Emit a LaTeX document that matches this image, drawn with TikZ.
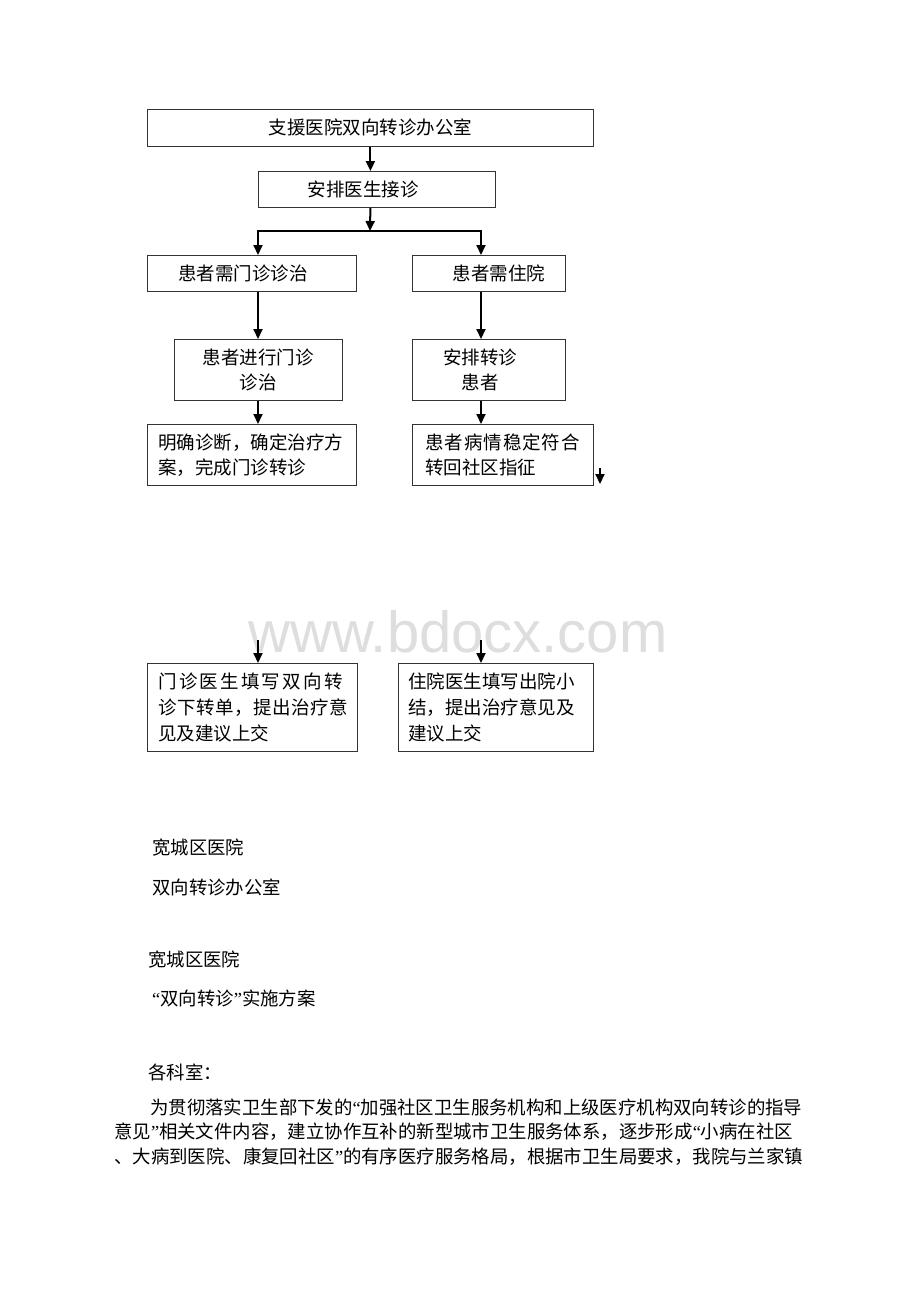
\documentclass[tikz,border=0pt]{standalone}
\usepackage{fontspec}
\setmainfont{Liberation Serif}
\newfontfamily\cjk{Noto Sans CJK SC}
\newfontfamily\markfont{Liberation Sans}
\usetikzlibrary{arrows.meta}
\newcommand{\lquo}{{\rmfamily “}}
\newcommand{\rquo}{{\rmfamily ”}}
\tikzstyle{rect} = [rectangle, draw=black!80, line width=0.8pt, inner sep=0pt, anchor=north west, align=center, font=\cjk\fontsize{18.5}{25}\selectfont]
\tikzstyle{note} = [rect, align=left, inner ysep=0pt]
\tikzstyle{arrow} = [line width=2pt, -{Triangle[length=10pt,width=9pt]}]
\tikzstyle{txt} = [anchor=west, inner sep=0pt, font=\cjk\fontsize{18.4}{24}\selectfont]

\begin{document}
\begin{tikzpicture}[x=1pt, y=-1pt]
        \fill[white] (0,0) rectangle (920,1302);
        \useasboundingbox (0,0) rectangle (920,1302);
        \node (mark) [anchor=base, text=black!13, font=\markfont\fontsize{58}{58}\selectfont] at (458,652) {www.bdocx.com};

        \node (office) [rect, minimum width=446pt, minimum height=37pt] at (147,109) {支援医院双向转诊办公室};
        \node (assign) [rect, minimum width=237pt, minimum height=36pt] at (258,171) {安排医生接诊\hspace*{27pt}};
        \node (outpat) [rect, minimum width=209pt, minimum height=36pt] at (147,255) {患者需门诊诊治\hspace*{18pt}};
        \node (inpat) [rect, minimum width=153pt, minimum height=36pt] at (412,255) {\hspace*{20pt}患者需住院};
        \node (visit) [rect, minimum width=168pt, minimum height=61pt] at (174,339) {患者进行门诊\\诊治};
        \node (transfer) [rect, minimum width=153pt, minimum height=61pt] at (412,339) {安排转诊\hspace*{17pt}\\患者\hspace*{17pt}};
        \node (plan) [note, text width=187pt, inner xsep=11pt, minimum height=61pt] at (147,424) {明确诊断，确定治疗方\\案，完成门诊转诊};
        \node (stable) [note, text width=155pt, inner xsep=13pt, minimum height=61pt] at (412,424) {{\addfontfeature{LetterSpace=5}患者病情稳定符合}\\转回社区指征};
        \node (outnote) [note, text width=188pt, inner xsep=11pt, minimum height=88pt, font=\cjk\fontsize{18.5}{26}\selectfont] at (147,663) {{\addfontfeature{LetterSpace=12}门诊医生填写双向转}\\{\addfontfeature{LetterSpace=2.5}诊下转单，提出治疗意}\\见及建议上交};
        \node (innote) [note, text width=175pt, inner xsep=10pt, minimum height=88pt, font=\cjk\fontsize{18.5}{26}\selectfont] at (398,663) {住院医生填写出院小\\结，提出治疗意见及\\建议上交};

        \coordinate (split) at (370,231);
        \coordinate (splitl) at (258,231);
        \coordinate (splitr) at (481,231);
        \draw [arrow] (office.south) -- (office.south |- assign.north);
        \draw [arrow] (office.south |- assign.south) -- (split);
        \draw [arrow] (split) -| (splitl |- outpat.north);
        \draw [arrow] (split) -| (splitr |- inpat.north);
        \draw [arrow] (splitl |- outpat.south) -- (splitl |- visit.north);
        \draw [arrow] (splitr |- inpat.south) -- (splitr |- transfer.north);
        \draw [arrow] (splitl |- visit.south) -- (splitl |- plan.north);
        \draw [arrow] (splitr |- transfer.south) -- (splitr |- stable.north);

        \coordinate (side1) at (600,468);
        \coordinate (side2) at (600,484);
        \draw [arrow] (side1) -- (side2);

        \coordinate (gap1) at (258,640);
        \coordinate (gap2) at (481,640);
        \draw [arrow] (gap1) -- (gap1 |- outnote.north);
        \draw [arrow] (gap2) -- (gap2 |- innote.north);

        \node (hosp1) [txt] at (152,848) {宽城区医院};
        \node (dept) [txt] at (152,887) {双向转诊办公室};
        \node (hosp2) [txt] at (148,960) {宽城区医院};
        \node (title) [txt] at (152,998) {\lquo 双向转诊\rquo 实施方案};
        \node (greet) [txt] at (148,1072) {各科室：};
        \node (line1) [txt] at (150,1108) {为贯彻落实卫生部下发的\lquo 加强社区卫生服务机构和上级医疗机构双向转诊的指导};
        \node (line2) [txt] at (114,1132) {意见\rquo 相关文件内容，建立协作互补的新型城市卫生服务体系，逐步形成\lquo 小病在社区};
        \node (line3) [txt] at (114,1157) {、大病到医院、康复回社区\rquo 的有序医疗服务格局，根据市卫生局要求，我院与兰家镇};
\end{tikzpicture}
\end{document}
